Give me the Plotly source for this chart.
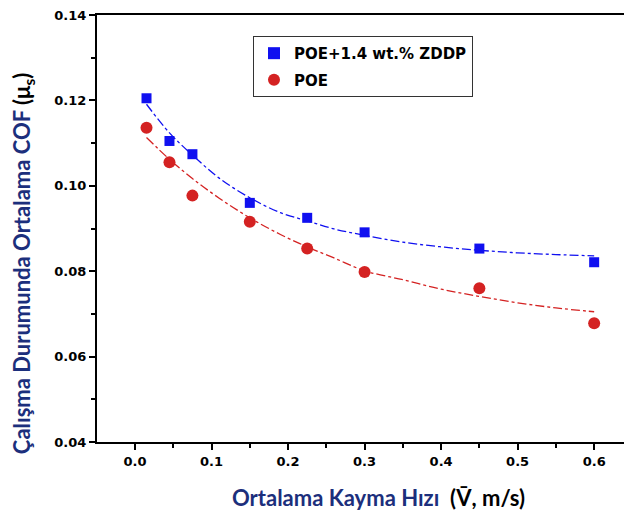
import plotly.graph_objects as go

# Measured data
x_pts = [0.015, 0.045, 0.075, 0.15, 0.225, 0.3, 0.45, 0.6]
zddp = [0.1205, 0.1105, 0.1074, 0.0960, 0.0925, 0.0891, 0.0853, 0.0821]
poe = [0.1136, 0.1055, 0.0977, 0.0916, 0.0853, 0.0798, 0.0760, 0.0678]

# Fitted curves
x_fit = [0.015, 0.045, 0.075, 0.11, 0.15, 0.19, 0.225, 0.26, 0.3, 0.35, 0.4, 0.45, 0.5, 0.55, 0.6]
zddp_fit = [0.1191, 0.1124, 0.1072, 0.1018, 0.0972, 0.0937, 0.0918, 0.0899, 0.0884,
            0.0868, 0.0857, 0.0849, 0.0843, 0.0839, 0.0836]
poe_fit = [0.1113, 0.1062, 0.1017, 0.0971, 0.0925, 0.0886, 0.0857, 0.0831, 0.0801,
           0.0780, 0.0758, 0.0741, 0.0726, 0.0714, 0.0705]

x_title = "Ortalama Kayma Hızı  <span style='color:black'>(V̄, m/s)</span>"
y_title = "Çalışma Durumunda Ortalama COF <span style='color:black'>(μ<sub>s</sub>)</span>"

BLUE = "#1010F0"
RED = "#D42222"
NAVY = "#1C2F7C"
TICKFONT = dict(family="DejaVu Sans", size=13, weight="bold", color="black")
TITLEFONT = dict(family="Lato, Open Sans", size=22, color=NAVY, weight="bold")

fig = go.Figure()
fig.add_trace(go.Scatter(x=x_fit, y=zddp_fit, mode="lines",
                         line=dict(color=BLUE, width=1.3, dash="dashdot", shape="spline"),
                         showlegend=False, hoverinfo="skip"))
fig.add_trace(go.Scatter(x=x_fit, y=poe_fit, mode="lines",
                         line=dict(color=RED, width=1.3, dash="dashdot", shape="spline"),
                         showlegend=False, hoverinfo="skip"))
fig.add_trace(go.Scatter(x=x_pts, y=zddp, mode="markers", name="POE+1.4 wt.% ZDDP",
                         legendgroup="a", marker=dict(symbol="square", size=10, color=BLUE)))
fig.add_trace(go.Scatter(x=x_pts, y=poe, mode="markers", name="POE",
                         legendgroup="b", marker=dict(symbol="circle", size=12, color=RED)))

fig.update_layout(
    width=624, height=513,
    margin=dict(l=97, r=0, t=15, b=71),
    paper_bgcolor="white", plot_bgcolor="white",
    font=dict(family="DejaVu Sans, Arial, sans-serif", color="black"),
    legend=dict(x=0.296, y=0.951, xanchor="left", yanchor="top",
                bordercolor="#333333", borderwidth=1, bgcolor="white",
                font=dict(size=15, family="DejaVu Sans", weight="bold"),
                itemsizing="constant", tracegroupgap=4),
    xaxis=dict(range=[-0.0497, 0.639], showgrid=False, zeroline=False,
               showline=True, linecolor="black", linewidth=2, mirror=True,
               ticks="outside", ticklen=6, tickwidth=2, tickcolor="black",
               dtick=0.1, tick0=0, tickformat=".1f",
               minor=dict(ticks="outside", ticklen=4, tickwidth=2, tickcolor="black", dtick=0.05),
               tickfont=TICKFONT),
    yaxis=dict(range=[0.04, 0.14], showgrid=False, zeroline=False,
               showline=True, linecolor="black", linewidth=2, mirror=False,
               ticks="outside", ticklen=6, tickwidth=2, tickcolor="black",
               dtick=0.02, tick0=0.04, tickformat=".2f",
               minor=dict(ticks="outside", ticklen=4, tickwidth=2, tickcolor="black", dtick=0.01),
               tickfont=TICKFONT),
    annotations=[
        dict(text=x_title, xref="paper", yref="paper", x=0.535, y=-0.129,
             xanchor="center", yanchor="middle", showarrow=False, font=TITLEFONT),
        dict(text=y_title, xref="paper", yref="paper", x=-0.140, y=0.417,
             xanchor="center", yanchor="middle", showarrow=False, textangle=-90, font=TITLEFONT),
    ],
)
fig.write_html("out.html")
